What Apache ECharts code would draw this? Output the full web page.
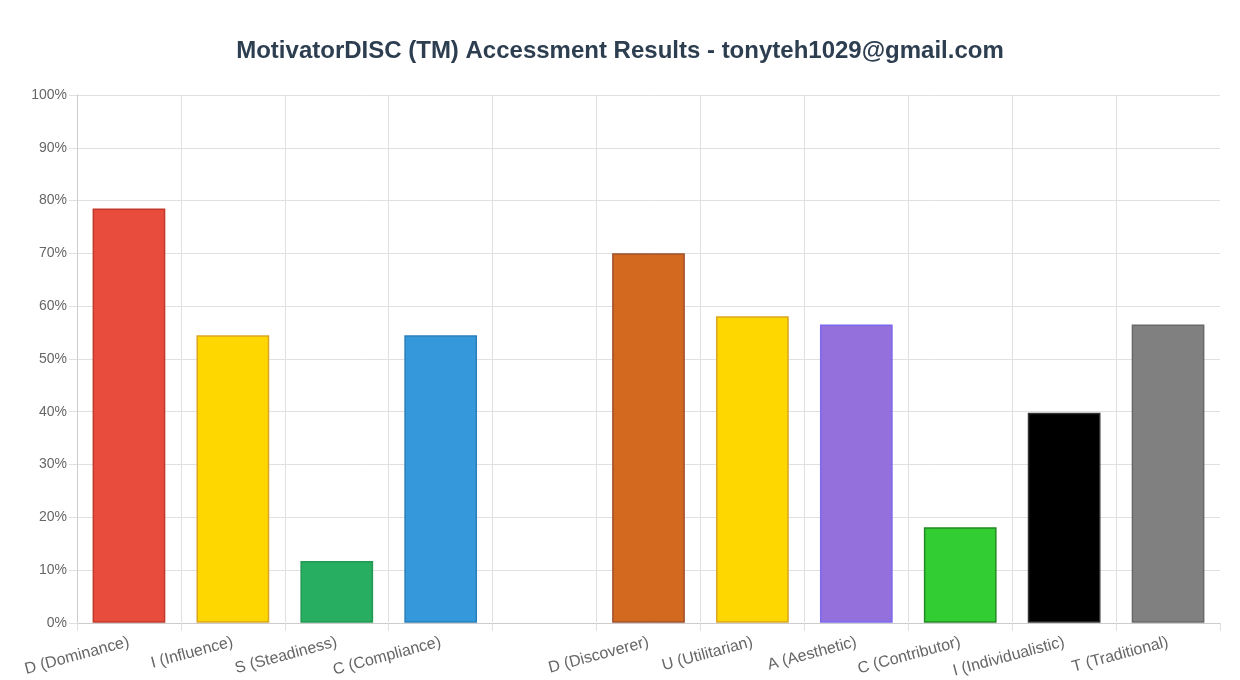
<!DOCTYPE html>
<html><head><meta charset="utf-8">
<script src="https://cdn.jsdelivr.net/npm/echarts@6/dist/echarts.min.js"></script>
<style>html,body{margin:0;padding:0;background:#fff}#c{width:1240px;height:680px}</style>
</head><body><div id="c"></div>
<script>
const categories = ['D (Dominance)','I (Influence)','S (Steadiness)','C (Compliance)','','D (Discoverer)','U (Utilitarian)','A (Aesthetic)','C (Contributor)','I (Individualistic)','T (Traditional)'];
const values = [78.5, 54.5, 11.7, 54.5, null, 70, 58.1, 56.5, 18.1, 39.8, 56.5];
const fillColors = ['#e74c3c','#ffd700','#27ae60','#3498db','#ffffff','#d2691e','#ffd700','#9370db','#32cd32','#000000','#808080'];
const borderColors = ['#c0392b','#daa520','#229954','#2980b9','#ffffff','#a0522d','#daa520','#7b68ee','#228b22','#333333','#696969'];
const yTicks = [0,10,20,30,40,50,60,70,80,90,100];

const chart = echarts.init(document.getElementById('c'));
chart.setOption({
  animation:false,
  title:{text:'MotivatorDISC (TM) Accessment Results - tonyteh1029@gmail.com',left:'center',top:34,
    textStyle:{fontFamily:'Liberation Sans, Arial, sans-serif',fontSize:24,fontWeight:'bold',color:'#2c3e50'}},
  grid:{left:77,right:20,top:95,bottom:57,containLabel:false},
  xAxis:{type:'category',data:categories,
    axisLine:{lineStyle:{color:'#cccccc'}},
    axisTick:{show:true,length:8,lineStyle:{color:'#e0e0e0'}},
    splitLine:{show:true,showMaxLine:false,lineStyle:{color:'#e0e0e0'}},
    axisLabel:{interval:0,rotate:15,margin:19,color:'#666',fontSize:16,fontFamily:'Liberation Sans, Arial, sans-serif'}},
  yAxis:{type:'value',min:0,max:100,interval:10,
    axisLine:{show:true,lineStyle:{color:'#cccccc'}},
    axisTick:{show:true,length:8,lineStyle:{color:'#e0e0e0'}},
    splitLine:{lineStyle:{color:'#e0e0e0'}},
    axisLabel:{formatter:v=>yTicks.includes(v)?v+'%':'',margin:10,color:'#666',fontSize:14,fontFamily:'Liberation Sans, Arial, sans-serif'}},
  series:[{type:'bar',barWidth:'70%',
    data:values.map((v,i)=>({value:v,itemStyle:{color:fillColors[i],borderColor:borderColors[i],borderWidth:1.5}}))}]
});
</script></body></html>
